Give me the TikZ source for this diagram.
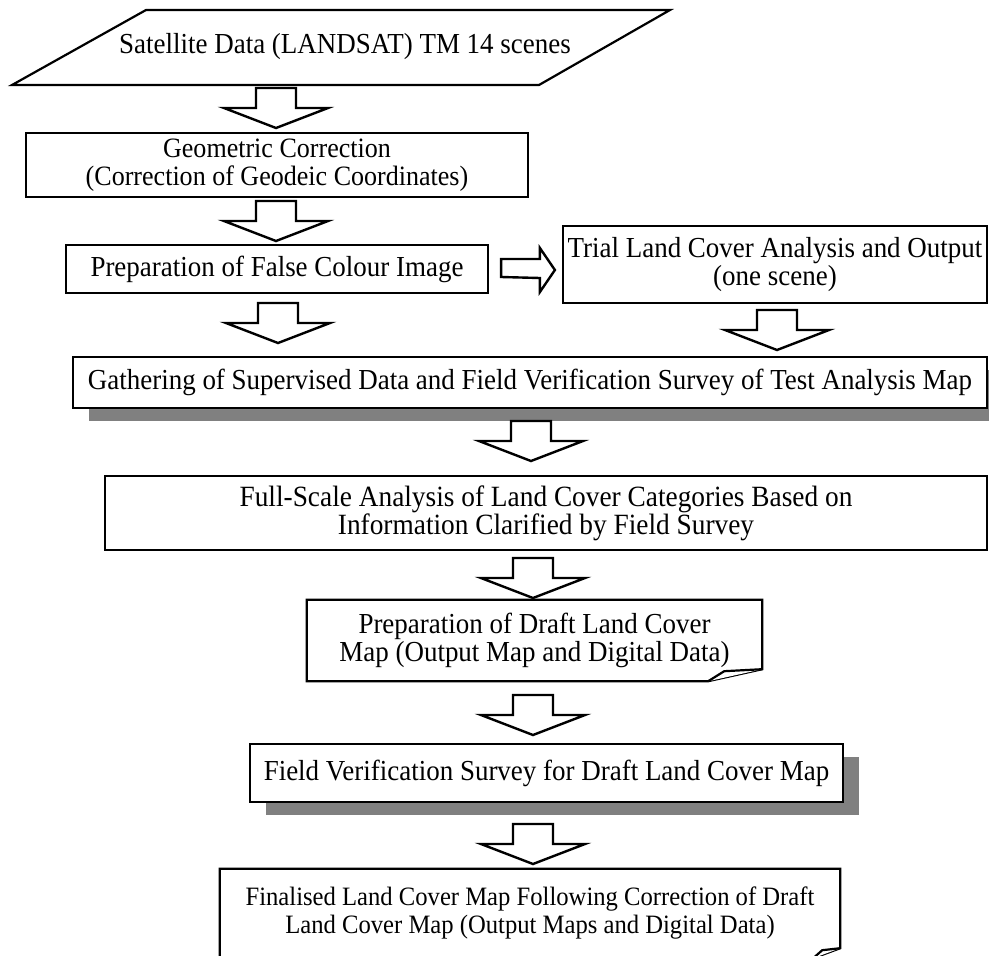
\documentclass[tikz,border=0pt]{standalone}
\usepackage{fontspec}
\setmainfont[FakeStretch=0.93]{Liberation Serif}
\usetikzlibrary{shadows,calc}
\definecolor{shadowgray}{RGB}{128,128,128}
\newcommand\boxfont[1]{\fontsize{#1}{28}\selectfont}
\begin{document}
\begin{tikzpicture}[x=1pt,y=-1pt,
  txt/.style={align=center, inner sep=0pt, font=\boxfont{29}},
  box/.style={txt, draw, line width=2.2pt, fill=white},
  plainbox/.style={txt},
  outline/.style={draw, line width=2.2pt, fill=white, line join=miter},
  shadowed/.style={drop shadow={shadow xshift=16pt, shadow yshift=-13pt, fill=shadowgray, opacity=1}},
  blk/.style={draw, line width=2.4pt, fill=white, line join=miter},
  pics/blockdown/.style={code={
    \draw[blk] (-20,0) -- (20,0) -- (20,20) -- (52,20) -- (0,40) -- (-52,20) -- (-20,20) -- cycle;}}
]
\useasboundingbox (0,0) rectangle (989,956);

% input data (parallelogram)
\coordinate (satBL) at (12,85);
\coordinate (satTL) at (146,10);
\coordinate (satTR) at (670,10);
\coordinate (satBR) at (539,85);
\draw[outline] (satBL) -- (satTL) -- (satTR) -- (satBR) -- cycle;
\node[plainbox] (sat) at (345,47) {Satellite Data (LANDSAT) TM 14 scenes};

% processing steps
\node[box, font=\boxfont{28}, minimum width=502pt, minimum height=64pt] (geo) at (277,165)
  {Geometric Correction\\(Correction of Geodeic Coordinates)};
\node[box, minimum width=422pt, minimum height=48pt] (prep) at (277,269)
  {Preparation of False Colour Image};
\node[box, minimum width=424pt, minimum height=77pt] (trial) at (775,264.5)
  {Trial Land Cover Analysis and Output\\(one scene)};
\node[box, shadowed, minimum width=914pt, minimum height=51pt] (gath) at (530,382.5)
  {Gathering of Supervised Data and Field Verification Survey of Test Analysis Map};
\node[box, font=\boxfont{29.4}, minimum width=882pt, minimum height=74pt] (full) at (546,513)
  {Full-Scale Analysis of Land Cover Categories Based on\\Information Clarified by Field Survey};

% draft map (folded corner)
\node[plainbox, minimum width=455pt, minimum height=81pt] (draft) at (534.5,640.5)
  {Preparation of Draft Land Cover\\Map (Output Map and Digital Data)};
\draw[outline] (draft.north west) -- (draft.north east)
  -- ($(draft.south east)+(0,-12)$) -- ($(draft.south east)+(-54,0)$)
  -- (draft.south west) -- cycle;
\draw[outline] ($(draft.south east)+(-54,0)$) -- ($(draft.south east)+(-38,-10)$)
  -- ($(draft.south east)+(0,-12)$);
\node[plainbox] at (draft.center)
  {Preparation of Draft Land Cover\\Map (Output Map and Digital Data)};

\node[box, shadowed, minimum width=593pt, minimum height=58pt] (field) at (546.5,773)
  {Field Verification Survey for Draft Land Cover Map};

% final map (folded corner)
\node[plainbox, font=\boxfont{26.5}, minimum width=620pt, minimum height=89pt] (final) at (530,913.5)
  {Finalised Land Cover Map Following Correction of Draft\\Land Cover Map (Output Maps and Digital Data)};
\draw[outline] (final.north west) -- (final.north east)
  -- ($(final.south east)+(0,-10)$) -- ($(final.south east)+(-27,0)$)
  -- (final.south west) -- cycle;
\draw[outline] ($(final.south east)+(-27,0)$) -- ($(final.south east)+(-18,-8)$)
  -- ($(final.south east)+(0,-10)$);
\node[plainbox, font=\boxfont{26.5}] at (final.center)
  {Finalised Land Cover Map Following Correction of Draft\\Land Cover Map (Output Maps and Digital Data)};

% block arrows between the steps
\pic at (276,88) {blockdown};
\pic at (276,201) {blockdown};
\pic at (278,303) {blockdown};
\pic at (777,310) {blockdown};
\pic at (531,421) {blockdown};
\pic at (533,558) {blockdown};
\pic at (533,695) {blockdown};
\pic at (533,824) {blockdown};

% sideways arrow to the trial analysis
\coordinate (hs) at ($(prep.east)+(12,0)$);
\coordinate (ht) at ($(trial.west)+(-7,5.5)$);
\draw[blk] ($(hs)+(0,-10)$) -- ($(ht)+(-15,-11)$) -- ($(ht)+(-15,-22)$) -- (ht)
  -- ($(ht)+(-15,22)$) -- ($(ht)+(-15,8)$) -- ($(hs)+(0,8)$) -- cycle;
\end{tikzpicture}
\end{document}
